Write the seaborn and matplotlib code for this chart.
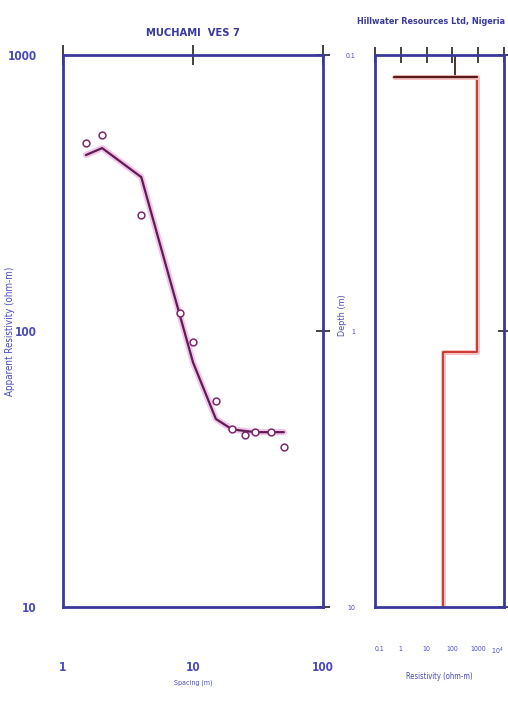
import matplotlib
matplotlib.use("Agg")
import matplotlib.pyplot as plt
import matplotlib.patheffects as pe
from matplotlib.ticker import LogLocator, FixedLocator, NullFormatter, FixedFormatter
import seaborn as sns
import pandas as pd
import numpy as np

# ---------------- data ----------------
spacing_obs = [1.5, 2, 4, 8, 10, 15, 20, 25, 30, 40, 50]
rho_obs = [480, 513, 263, 116, 91, 56, 44, 42, 43, 43, 38]

spacing_fit = [1.5, 2, 4, 10, 15, 20, 30, 40, 50]
rho_fit = [434, 460, 361, 77, 48, 44, 43, 43, 43]

layer_res = [126, 890, 43]          # ohm-m
layer_bottom = [0.12, 1.19]          # m
interface_left_res = 0.55            # left end of first interface line

left_xticks = [1, 10, 100]
left_xticklabels = ["1", "10", "100"]
left_yticks = [10, 100, 1000]
left_yticklabels = ["10", "100", "1000"]
right_xticks = [0.1, 1, 10, 100, 1000, 10000]
right_xticklabels = ["0.1", "1", "10", "100", "1000", "$10^4$"]
right_yticks = [0.1, 1, 10]
right_yticklabels = ["0.1", "1", "10"]

# ---------------- style ----------------
sns.set_style("white")
plt.rcParams["font.family"] = ["DejaVu Sans"]
plt.rcParams["font.stretch"] = "condensed"

navy = "#3a3a9c"
lblue = "#4a4ac0"
purple = "#5e1d52"
red = "#c83228"

W, H = 508, 707
fig = plt.figure(figsize=(W / 100, H / 100), dpi=100)
ax1 = fig.add_axes([63 / W, 1 - 607 / H, 260 / W, 552 / H])
ax2 = fig.add_axes([375 / W, 1 - 607 / H, 129 / W, 552 / H])

# ---------------- left: sounding curve ----------------
df_obs = pd.DataFrame({"spacing": spacing_obs, "rho": rho_obs})
df_fit = pd.DataFrame({"spacing": spacing_fit, "rho": rho_fit})

sns.lineplot(data=df_fit, x="spacing", y="rho", ax=ax1, color=purple, lw=1.6,
             sort=False, estimator=None,
             path_effects=[pe.Stroke(linewidth=4.5, foreground="#f4c4ea"), pe.Normal()])
sns.scatterplot(data=df_obs, x="spacing", y="rho", ax=ax1, marker="o", s=24,
                facecolor="white", edgecolor="#7a2a6a", linewidth=1.1, zorder=5)

ax1.set_xscale("log")
ax1.set_yscale("log")
ax1.set_xlim(1, 100)
ax1.set_ylim(10, 1000)

for a in (ax1, ax2):
    for s in a.spines.values():
        s.set_color(navy)
        s.set_linewidth(2)

ax1.xaxis.set_major_locator(FixedLocator(left_xticks))
ax1.xaxis.set_major_formatter(FixedFormatter(left_xticklabels))
ax1.yaxis.set_major_locator(FixedLocator(left_yticks))
ax1.yaxis.set_major_formatter(FixedFormatter(left_yticklabels))
ax1.xaxis.set_minor_locator(LogLocator(base=10, subs=np.arange(2, 10)))
ax1.yaxis.set_minor_locator(LogLocator(base=10, subs=np.arange(2, 10)))
ax1.xaxis.set_minor_formatter(NullFormatter())
ax1.yaxis.set_minor_formatter(NullFormatter())

ax1.tick_params(axis="x", which="major", direction="inout", length=14, width=1.2,
                color="#222222", pad=32, labelsize=8.5, labelcolor=lblue, top=True)
ax1.tick_params(axis="x", which="minor", direction="out", length=5, width=1.2,
                color="#222222", top=False)
ax1.tick_params(axis="y", which="major", direction="inout", length=10, width=1.2,
                color="#222222", pad=14, labelsize=8.5, labelcolor=lblue, right=True)
ax1.tick_params(axis="y", which="minor", direction="out", length=4, width=1.2,
                color="#222222", right=False)
for t in ax1.get_xticklabels() + ax1.get_yticklabels():
    t.set_fontweight("bold")

ax1.set_xlabel("Spacing (m)", fontsize=5, color=lblue, labelpad=4)
ax1.set_ylabel("Apparent Resistivity (ohm-m)", fontsize=7, color=lblue)
ax1.yaxis.set_label_coords((15 - 63) / 260, 0.5)
ax1.set_title("MUCHAMI  VES 7", fontsize=8, fontweight="bold", color=navy, pad=14)

# ---------------- right: layered model ----------------
step_res = []
step_dep = []
top = 0.1
for i, r in enumerate(layer_res):
    bottom = layer_bottom[i] if i < len(layer_bottom) else 10
    step_res += [r, r]
    step_dep += [top, bottom]
    top = bottom
df_step = pd.DataFrame({"res": step_res, "depth": step_dep})

sns.lineplot(data=df_step.iloc[2:], x="res", y="depth", ax=ax2, color=red, lw=1.3,
             sort=False, estimator=None,
             path_effects=[pe.Stroke(linewidth=3.5, foreground="#f6c0c0"), pe.Normal()])
sns.lineplot(data=df_step.iloc[:2], x="res", y="depth", ax=ax2, color="#402020", lw=1.3,
             sort=False, estimator=None)
df_iface = pd.DataFrame({"res": [interface_left_res, layer_res[1]],
                         "depth": [layer_bottom[0], layer_bottom[0]]})
sns.lineplot(data=df_iface, x="res", y="depth", ax=ax2, color="#5a1a1a", lw=1.6,
             sort=False, estimator=None,
             path_effects=[pe.Stroke(linewidth=3.5, foreground="#f6c0c0"), pe.Normal()])

ax2.set_xscale("log")
ax2.set_yscale("log")
ax2.set_xlim(0.1, 10000)
ax2.set_ylim(10, 0.1)

ax2.xaxis.set_major_locator(FixedLocator(right_xticks))
ax2.xaxis.set_major_formatter(FixedFormatter(right_xticklabels))
ax2.yaxis.set_major_locator(FixedLocator(right_yticks))
ax2.yaxis.set_major_formatter(FixedFormatter(right_yticklabels))
ax2.xaxis.set_minor_locator(LogLocator(base=10, subs=np.arange(2, 10)))
ax2.yaxis.set_minor_locator(LogLocator(base=10, subs=np.arange(2, 10)))
ax2.xaxis.set_minor_formatter(NullFormatter())
ax2.yaxis.set_minor_formatter(NullFormatter())

ax2.tick_params(axis="x", which="major", direction="inout", length=12, width=1.2,
                color="#222222", pad=22, labelsize=5, labelcolor=lblue, top=True)
ax2.tick_params(axis="x", which="minor", direction="out", length=4, width=1.0,
                color="#222222", top=False)
ax2.tick_params(axis="y", which="major", direction="inout", length=8, width=1.2,
                color="#222222", pad=10, labelsize=5, labelcolor=lblue, right=True)
ax2.tick_params(axis="y", which="minor", direction="in", length=4, width=1.2,
                color="#222222", right=False)
xl = ax2.get_xticklabels()
xl[0].set_horizontalalignment("left")
xl[-1].set_horizontalalignment("right")

ax2.set_xlabel("Resistivity (ohm-m)", fontsize=5.5, color=lblue, labelpad=11)
ax2.set_ylabel("Depth (m)", fontsize=6.5, color=lblue)
ax2.yaxis.set_label_coords((347 - 375) / 129, (607 - 315) / 552)
fig.text(431 / W, 1 - 22 / H, "Hillwater Resources Ltd, Nigeria", ha="center", va="center",
         fontsize=6.5, fontweight="bold", color=navy)

fig.savefig("out.png", dpi=100)
